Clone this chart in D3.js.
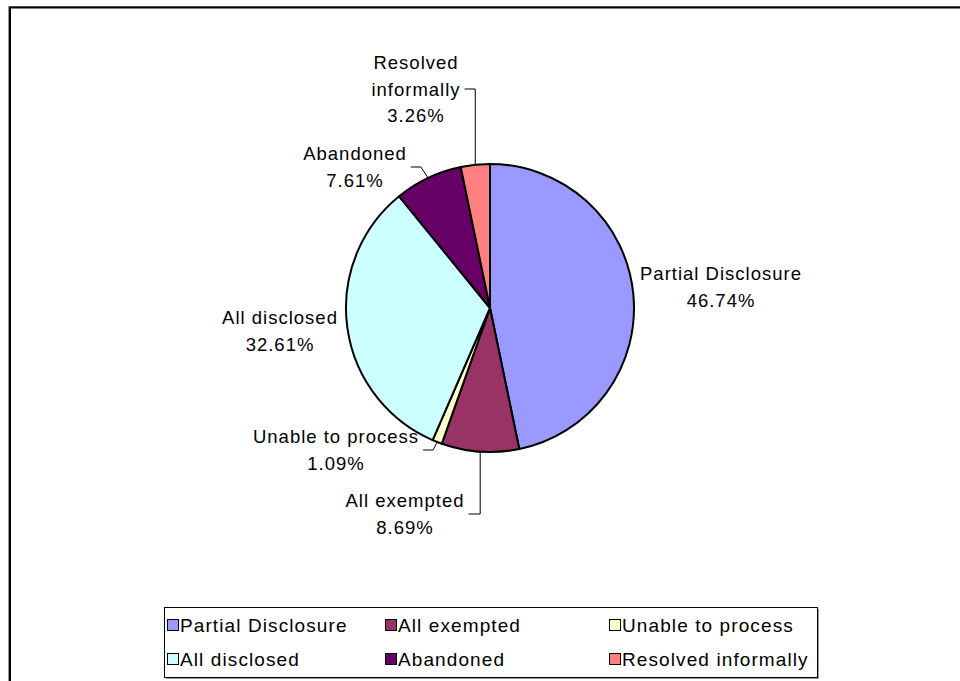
<!DOCTYPE html>
<html lang="en">
<head>
    <meta charset="UTF-8">
    <title>Request outcomes pie</title>
    <script src="https://d3js.org/d3.v7.min.js"></script>
    <style>
        body { margin: 0; background: #fff; }
        svg text { font-family: "Liberation Sans", Arial, sans-serif; fill: #000; }
    </style>
</head>
<body>
<svg id="chart"></svg>
<script>
    // outcome categories and their share of requests (percent)
    const categories = ["Partial Disclosure", "All exempted", "Unable to process",
        "All disclosed", "Abandoned", "Resolved informally"];
    const shares = [46.74, 8.69, 1.09, 32.61, 7.61, 3.26];
    const colors = ["#9999FF", "#993366", "#FFFFCC", "#CCFFFF", "#660066", "#FF8080"];

    // label text lines, as shown on the chart
    const labelLines = [
        ["Partial Disclosure"], ["All exempted"], ["Unable to process"],
        ["All disclosed"], ["Abandoned"], ["Resolved", "informally"]
    ];
    // where each label block sits, relative to the pie centre, and whether it has a leader
    const labelOffset = [[231, -21], [-85, 206], [-154, 142], [-210, 23], [-135, -141], [-74, -219]];
    const hasLeader = [false, true, true, false, true, true];

    const width = 960, height = 681;
    const cx = 490, cy = 308, radius = 144;
    const fontSize = 18.5, lineGap = 26.5;

    const svg = d3.select("#chart").attr("width", width).attr("height", height);

    // chart frame (runs off the right and bottom of the picture)
    svg.append("rect").attr("x", 8.5).attr("y", 6.5).attr("width", 1000).attr("height", 800)
        .attr("fill", "none").attr("stroke", "#999").attr("stroke-width", 1);
    svg.append("rect").attr("x", 10).attr("y", 7.5).attr("width", 1000).attr("height", 800)
        .attr("fill", "none").attr("stroke", "#000").attr("stroke-width", 2);

    const pct = d => d.toFixed(2) + "%";

    const pie = d3.pie().sort(null).value(d => d);
    const arcs = pie(shares);
    const arc = d3.arc().innerRadius(0).outerRadius(radius);

    const g = svg.append("g").attr("transform", `translate(${cx},${cy})`);

    g.selectAll("path.slice")
        .data(arcs)
        .join("path")
        .classed("slice", true)
        .attr("d", arc)
        .attr("fill", (d, i) => colors[i])
        .attr("stroke", "#000")
        .attr("stroke-width", 2)
        .attr("stroke-linejoin", "round");

    // labels
    const labels = g.selectAll("g.label")
        .data(arcs)
        .join("g")
        .classed("label", true);

    labels.each(function (d, i) {
        const lines = labelLines[i].slice();
        lines[lines.length] = pct(d.value);
        const [lx, ly] = labelOffset[i];
        const n = lines.length;
        const t = d3.select(this).append("text")
            .attr("text-anchor", "middle")
            .style("font-size", fontSize + "px")
            .style("letter-spacing", "1px");
        lines.forEach((s, k) => {
            t.append("tspan")
                .attr("x", lx)
                .attr("y", ly + (k - (n - 1) / 2) * lineGap + 6.5)
                .text(s);
        });

        if (hasLeader[i]) {
            const bw = t.node().getBBox().width;
            const mid = (d.startAngle + d.endAngle) / 2;
            const px = radius * Math.sin(mid), py = -radius * Math.cos(mid);
            const side = px > lx ? 1 : -1;
            const x0 = lx + side * (bw / 2 + 4);
            const x1 = x0 + side * 10;
            const pts = Math.abs(px - x1) < 4
                ? [[x0, ly], [px, ly], [px, py]]
                : [[x0, ly], [x1, ly], [px, py]];
            d3.select(this).append("path")
                .attr("d", d3.line()(pts))
                .attr("fill", "none")
                .attr("stroke", "#000")
                .attr("stroke-width", 1);
        }
    });

    // legend
    const legendX = 164, legendY = 607, legendW = 653, legendH = 70;
    const colX = [3, 221, 445];
    const rowY = [18, 52];

    const lg = svg.append("g").attr("transform", `translate(${legendX},${legendY})`);
    lg.append("rect").attr("x", 2).attr("y", 2).attr("width", legendW).attr("height", legendH)
        .attr("fill", "#999");
    lg.append("rect").attr("x", 0.5).attr("y", 0.5).attr("width", legendW).attr("height", legendH)
        .attr("fill", "#fff").attr("stroke", "#000").attr("stroke-width", 1);

    const items = lg.selectAll("g.item")
        .data(categories)
        .join("g")
        .classed("item", true)
        .attr("transform", (d, i) => `translate(${colX[i % 3]},${rowY[Math.floor(i / 3)]})`);

    items.append("rect")
        .attr("x", 0.5).attr("y", -5.5)
        .attr("width", 11).attr("height", 11)
        .attr("fill", (d, i) => colors[i])
        .attr("stroke", "#000").attr("stroke-width", 1);

    items.append("text")
        .attr("x", 13)
        .attr("y", 7)
        .style("font-size", "19px")
        .style("letter-spacing", "1.1px")
        .text(d => d);
</script>
</body>
</html>
